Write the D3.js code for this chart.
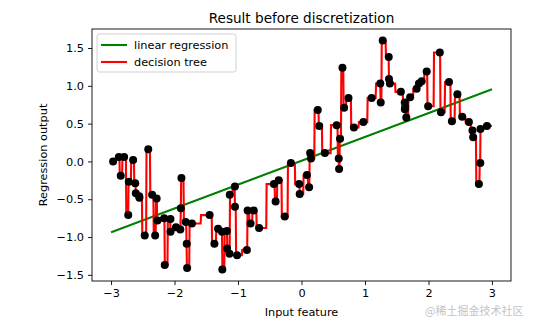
<!DOCTYPE html>
<html><head><meta charset="utf-8">
<script src="https://cdn.jsdelivr.net/npm/d3@7"></script>
<style>body{margin:0;background:#fff} svg{display:block} text{font-family:"DejaVu Sans",sans-serif}</style>
</head><body><svg id="c" width="535" height="324"></svg>
<script>
const titleText = "Result before discretization";
const xLabel = "Input feature";
const yLabel = "Regression output";
const seriesNames = ["linear regression", "decision tree"];
const xTicks = [-3, -2, -1, 0, 1, 2, 3];
const yTicks = [-1.5, -1.0, -0.5, 0.0, 0.5, 1.0, 1.5];
const watermark = "@稀土掘金技术社区";

const xValues = [-2.967, -2.877, -2.847, -2.794, -2.729, -2.721, -2.652, -2.619, -2.610, -2.556,
  -2.553, -2.469, -2.414, -2.353, -2.305, -2.282, -2.268, -2.163, -2.154, -2.0640,
  -2.0639, -1.977, -1.909, -1.900, -1.891, -1.824, -1.808, -1.802, -1.726, -1.447,
  -1.372, -1.314, -1.253, -1.247, -1.175, -1.172, -1.134, -1.130, -1.049, -1.048,
  -1.015, -0.860, -0.849, -0.802, -0.753, -0.668, -0.435, -0.408, -0.359, -0.264,
  -0.167, -0.037, -0.029, 0.085, 0.120, 0.136, 0.149, 0.256, 0.280, 0.368,
  0.554, 0.587, 0.592, 0.607, 0.645, 0.671, 0.740, 0.825, 0.975, 1.105,
  1.241, 1.248, 1.279, 1.374, 1.378, 1.392, 1.565, 1.626, 1.628, 1.633,
  1.651, 1.711, 1.813, 1.850, 1.893, 1.972, 1.995, 2.179, 2.197, 2.323,
  2.369, 2.456, 2.531, 2.637, 2.693, 2.704, 2.794, 2.817, 2.819, 2.921];
const yValues = [0.00, 0.06, -0.19, 0.06, -0.71, -0.27, 0.02, -0.29, -0.42, -0.46,
  -0.48, -0.98, 0.16, -0.44, -0.98, -0.49, -0.78, -0.75, -1.37, -0.76,
  -0.93, -0.87, -0.90, -0.62, -0.22, -0.80, -1.09, -1.41, -0.82, -0.71,
  -1.09, -0.89, -0.93, -1.43, -0.92, -1.15, -1.22, -0.44, -0.33, -0.60,
  -1.24, -1.17, -0.65, -0.82, -0.65, -0.88, -0.30, -0.53, -0.25, -0.73,
  -0.02, -0.30, -0.43, -0.18, -0.34, 0.11, 0.04, 0.68, 0.47, 0.11,
  0.48, 0.04, -0.10, 0.30, 1.24, 0.71, 0.84, 0.45, 0.52, 0.84,
  1.03, 0.78, 1.60, 1.38, 1.09, 1.03, 0.92, 0.78, 0.69, 0.72,
  0.58, 0.85, 0.96, 1.03, 1.06, 1.19, 0.73, 1.44, 0.65, 1.05,
  0.53, 0.89, 0.59, 0.52, 0.41, 0.32, -0.30, -0.02, 0.43, 0.47];

// ---- models fitted on the data ----
function fitLinear(xs, ys) {
  const mx = d3.mean(xs), my = d3.mean(ys);
  let sxy = 0, sxx = 0;
  xs.forEach((x, i) => { sxy += (x - mx) * (ys[i] - my); sxx += (x - mx) * (x - mx); });
  const b = sxy / sxx, a = my - b * mx;
  return x => a + b * x;
}
function fitTree(xs, ys, minSplit) {
  const order = d3.range(xs.length).sort((a, b) => xs[a] - xs[b]);
  const X = order.map(i => xs[i]), Y = order.map(i => ys[i]);
  function build(lo, hi) {
    const n = hi - lo;
    let sum = 0, sq = 0;
    for (let i = lo; i < hi; i++) { sum += Y[i]; sq += Y[i] * Y[i]; }
    const mean = sum / n, imp = sq / n - mean * mean;
    if (n < minSplit || imp <= 1e-12) return { leaf: true, value: mean };
    let best = -Infinity, bestP = -1, sl = 0;
    for (let p = lo + 1; p < hi; p++) {
      sl += Y[p - 1];
      if (X[p] <= X[p - 1] + 1e-7) continue;
      const nl = p - lo, nr = hi - p, sr = sum - sl;
      const proxy = sl * sl / nl + sr * sr / nr;
      if (proxy > best) { best = proxy; bestP = p; }
    }
    if (bestP < 0) return { leaf: true, value: mean };
    return { leaf: false, thr: (X[bestP - 1] + X[bestP]) / 2, left: build(lo, bestP), right: build(bestP, hi) };
  }
  const root = build(0, X.length);
  return x => { let nd = root; while (!nd.leaf) nd = x <= nd.thr ? nd.left : nd.right; return nd.value; };
}

const grid = d3.range(1000).map(i => -3 + 6 * i / 999);
const lin = fitLinear(xValues, yValues);
const tree = fitTree(xValues, yValues, 2);
const linPts = grid.map(x => [x, lin(x)]);
const treePts = grid.map(x => [x, tree(x)]);

// ---- layout ----
const svg = d3.select("#c");
const L = 92, R = 511, T = 29, B = 281;
const allY = yValues.concat(linPts.map(d => d[1]), treePts.map(d => d[1]));
const allX = xValues.concat(grid);
const [x0, x1] = d3.extent(allX), [y0, y1] = d3.extent(allY);
const xs = d3.scaleLinear().domain([x0 - 0.05 * (x1 - x0), x1 + 0.05 * (x1 - x0)]).range([L, R]);
const ys = d3.scaleLinear().domain([y0 - 0.05 * (y1 - y0), y1 + 0.05 * (y1 - y0)]).range([B, T]);

const fmtX = d => String(d).replace("-", "\u2212");
const fmtY = d => d3.format(".1f")(d).replace("-", "\u2212");
const FS = 11.3;
const LW = 2.1;

const line = d3.line().x(d => xs(d[0])).y(d => ys(d[1]));
svg.append("path").datum(linPts).attr("d", line).attr("fill", "none").attr("stroke", "#008000").attr("stroke-width", LW);
svg.append("path").datum(treePts).attr("d", line).attr("fill", "none").attr("stroke", "#ff0000").attr("stroke-width", LW);
svg.append("g").selectAll("circle").data(xValues).join("circle")
  .attr("cx", d => xs(d)).attr("cy", (d, i) => ys(yValues[i])).attr("r", 4).attr("fill", "#000");

// axes
const gx = svg.append("g").attr("transform", `translate(0,${B})`)
  .call(d3.axisBottom(xs).tickValues(xTicks).tickFormat(fmtX).tickSize(4).tickPadding(4));
const gy = svg.append("g").attr("transform", `translate(${L},0)`)
  .call(d3.axisLeft(ys).tickValues(yTicks).tickFormat(fmtY).tickSize(4).tickPadding(4));
[gx, gy].forEach(g => {
  g.select(".domain").remove();
  g.selectAll("line").attr("stroke", "#000").attr("stroke-width", 0.9);
  g.selectAll("text").attr("font-size", FS).attr("fill", "#000").style("font-family", '"DejaVu Sans",sans-serif');
});
svg.append("rect").attr("x", L).attr("y", T).attr("width", R - L).attr("height", B - T)
  .attr("fill", "none").attr("stroke", "#000").attr("stroke-width", 0.9);

// labels
svg.append("text").attr("x", (L + R) / 2).attr("y", 23).attr("text-anchor", "middle").attr("font-size", 13.6).text(titleText);
svg.append("text").attr("x", (L + R) / 2).attr("y", 315.5).attr("text-anchor", "middle").attr("font-size", FS).text(xLabel);
svg.append("text").attr("transform", `translate(47,${(T + B) / 2}) rotate(-90)`).attr("text-anchor", "middle").attr("font-size", FS).text(yLabel);

// legend
const lg = svg.append("g");
lg.append("rect").attr("x", 97).attr("y", 34).attr("width", 139).attr("height", 38).attr("rx", 2.5)
  .attr("fill", "#fff").attr("fill-opacity", 0.8).attr("stroke", "#cccccc").attr("stroke-width", 0.9);
const colors = ["#008000", "#ff0000"];
seriesNames.forEach((nm, i) => {
  const yy = 45 + i * 17;
  lg.append("line").attr("x1", 101).attr("x2", 127).attr("y1", yy).attr("y2", yy).attr("stroke", colors[i]).attr("stroke-width", LW);
  lg.append("text").attr("x", 134).attr("y", yy + 4).attr("font-size", FS).text(nm);
});

svg.append("text").attr("x", 425).attr("y", 315).attr("font-size", 11).attr("fill", "#c4c4c4")
  .style("font-family", '"Noto Sans CJK SC",sans-serif').text(watermark);
</script></body></html>
